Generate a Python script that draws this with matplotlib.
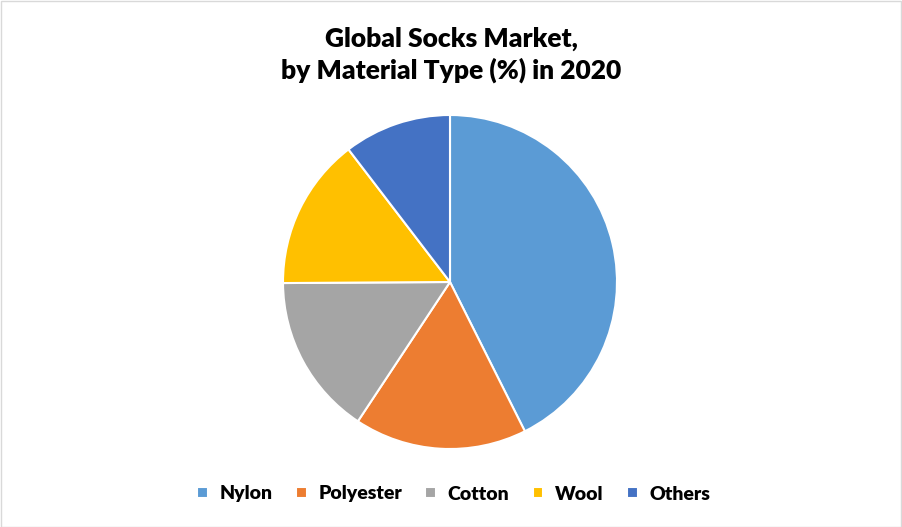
import matplotlib.pyplot as plt
from matplotlib.patches import Rectangle

# values (%)
materials = ["Nylon", "Polyester", "Cotton", "Wool", "Others"]
shares = [42.6, 16.7, 15.6, 14.7, 10.4]
colours = ["#5B9BD5", "#ED7D31", "#A5A5A5", "#FFC000", "#4472C4"]

plt.rcParams['font.family'] = ['Lato', 'DejaVu Sans']

fig = plt.figure(figsize=(9.02, 5.27), dpi=100)
W, H = 902, 527

# pie centre / radius in pixels
cx, cy, r = 450, 282, 167
lim = 1.03
half = r * lim
ax = fig.add_axes([(cx - half) / W, (H - cy - half) / H, 2 * half / W, 2 * half / H])
wedges, _ = ax.pie(shares, colors=colours, startangle=90, counterclock=False,
                   wedgeprops=dict(edgecolor="white", linewidth=1.5))
ax.set_xlim(-lim, lim)
ax.set_ylim(-lim, lim)
ax.set_aspect("equal")
ax.axis("off")

fig.text(0.5, 1 - 55 / H, "Global Socks Market,\nby Material Type (%) in 2020",
         ha="center", va="center", fontsize=19, fontweight="heavy",
         linespacing=1.3, color="#000000")

fig.legend(wedges, materials, loc="center", bbox_to_anchor=(0.503, 1 - 494 / H),
           ncol=5, frameon=False, prop=dict(weight="heavy", size=14),
           handlelength=0.55, handleheight=0.55, handletextpad=0.6, columnspacing=1.2)

# thin grey border round the chart area
fig.patches.append(Rectangle((0.5 / W, 0.5 / H), 1 - 1.5 / W, 1 - 1.5 / H,
                             transform=fig.transFigure, fill=False,
                             edgecolor="#D9D9D9", linewidth=1))

fig.savefig("out.png", dpi=100)
